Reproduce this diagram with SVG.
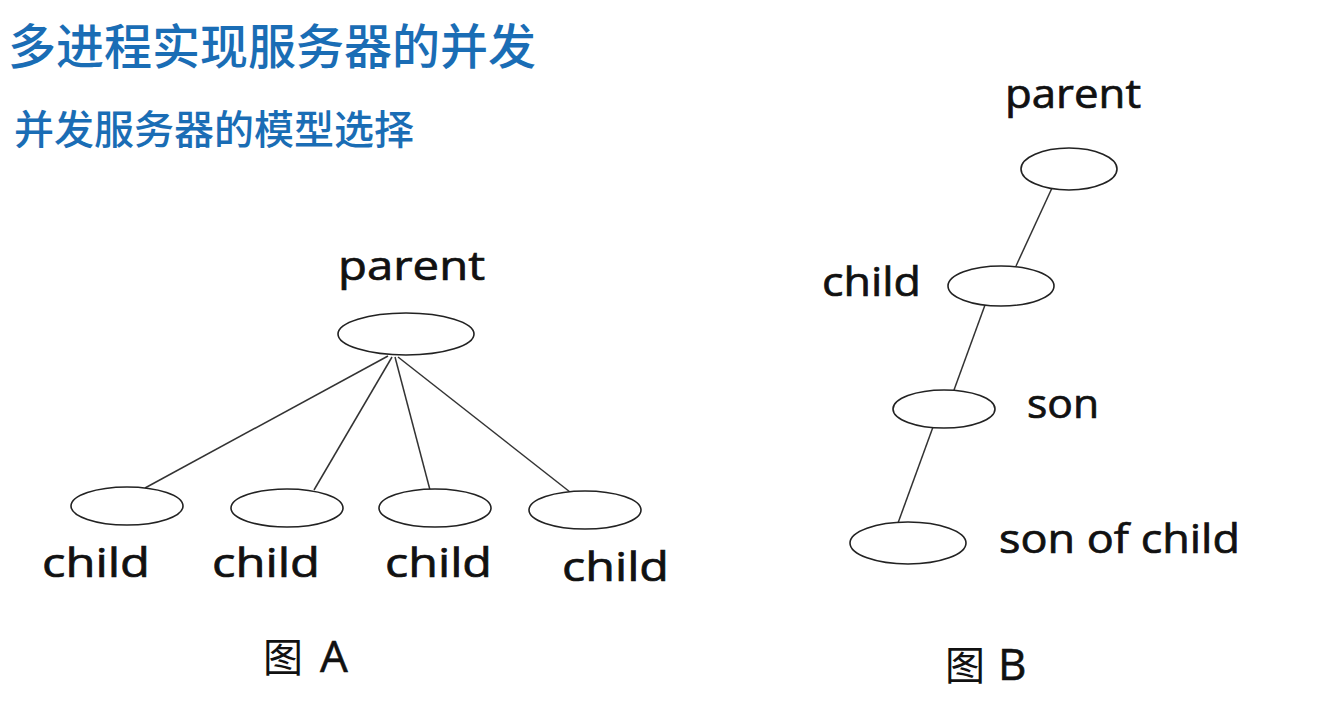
<svg xmlns="http://www.w3.org/2000/svg" width="1328" height="704" viewBox="0 0 1328 704">
<style>
.title{font-family:"Noto Sans CJK SC",sans-serif;fill:#1a6db5;font-weight:500}
.lbl{font-family:"Open Sans","Noto Sans",sans-serif;font-size:40px;fill:#111;stroke:#111;stroke-width:0.7}
.cap{font-family:"Noto Sans CJK SC",sans-serif;font-size:40px;fill:#111}
.capl{font-family:"Open Sans",sans-serif;font-size:44px;stroke:#111;stroke-width:0.6}
.node{fill:#fff;stroke:#222;stroke-width:1.6}
.edge{stroke:#333;stroke-width:1.5;fill:none}
</style>
<rect width="1328" height="704" fill="#fff"/>
<text class="title" x="8" y="64" font-size="48">多进程实现服务器的并发</text>
<text class="title" x="14" y="144" font-size="40" textLength="400" lengthAdjust="spacingAndGlyphs">并发服务器的模型选择</text>
<g id="connectors">
<line class="edge" x1="388" y1="356" x2="145" y2="488"/>
<line class="edge" x1="392" y1="357" x2="314" y2="490"/>
<line class="edge" x1="395" y1="357" x2="430" y2="490"/>
<line class="edge" x1="398" y1="357" x2="570" y2="492"/>
<line class="edge" x1="1052" y1="188" x2="1016" y2="266"/>
<line class="edge" x1="985" y1="305" x2="954" y2="390"/>
<line class="edge" x1="933" y1="427" x2="898" y2="523"/>
</g>
<g id="A-parent"><ellipse class="node" cx="406" cy="334" rx="68" ry="21"/><text class="lbl" x="338" y="280" textLength="147" lengthAdjust="spacingAndGlyphs">parent</text></g>
<g id="A-child1"><ellipse class="node" cx="127" cy="506" rx="56" ry="19"/><text class="lbl" x="42" y="577" textLength="108" lengthAdjust="spacingAndGlyphs">child</text></g>
<g id="A-child2"><ellipse class="node" cx="287" cy="508" rx="56" ry="19"/><text class="lbl" x="212" y="577" textLength="108" lengthAdjust="spacingAndGlyphs">child</text></g>
<g id="A-child3"><ellipse class="node" cx="435" cy="508" rx="56" ry="19"/><text class="lbl" x="385" y="577" textLength="107" lengthAdjust="spacingAndGlyphs">child</text></g>
<g id="A-child4"><ellipse class="node" cx="585" cy="510" rx="56" ry="19"/><text class="lbl" x="562" y="581" textLength="107" lengthAdjust="spacingAndGlyphs">child</text></g>
<g id="B-parent"><ellipse class="node" cx="1069" cy="169" rx="48" ry="21"/><text class="lbl" x="1005" y="108" textLength="136" lengthAdjust="spacingAndGlyphs">parent</text></g>
<g id="B-child"><ellipse class="node" cx="1001" cy="286" rx="53" ry="20"/><text class="lbl" x="822" y="296" textLength="99" lengthAdjust="spacingAndGlyphs">child</text></g>
<g id="B-son"><ellipse class="node" cx="944" cy="409" rx="51" ry="19"/><text class="lbl" x="1027" y="418" textLength="72" lengthAdjust="spacingAndGlyphs">son</text></g>
<g id="B-sonofchild"><ellipse class="node" cx="908" cy="543" rx="58" ry="21"/><text class="lbl" x="999" y="553" textLength="241" lengthAdjust="spacingAndGlyphs">son of child</text></g>
<text class="cap" y="672"><tspan x="263">图</tspan><tspan class="capl" x="320">A</tspan></text>
<text class="cap" y="680"><tspan x="945">图</tspan><tspan class="capl" x="998">B</tspan></text>
</svg>
